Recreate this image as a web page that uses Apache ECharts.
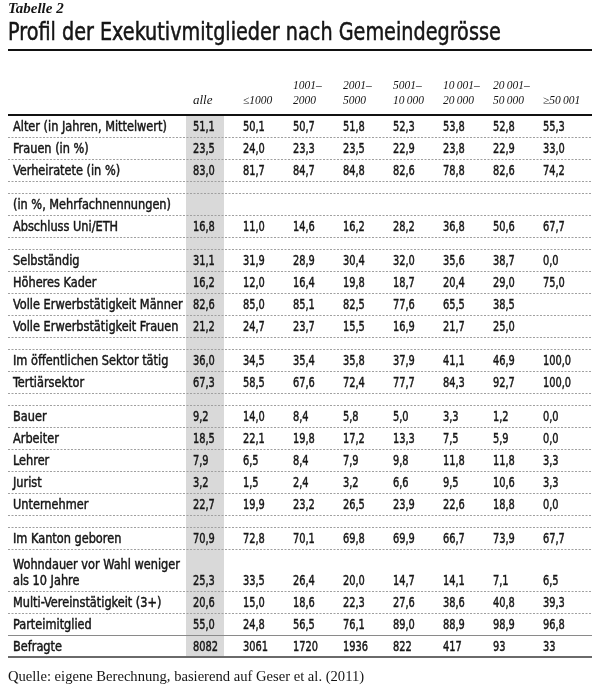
<!DOCTYPE html>
<html>
<head>
<meta charset="utf-8">
<script src="https://cdn.jsdelivr.net/npm/echarts@6/dist/echarts.min.js"></script>
<style>
  html, body { margin: 0; padding: 0; background: #fff; }
  #chart { width: 600px; height: 686px; }
</style>
</head>
<body>
<div id="chart"></div>
<script>
// column headers (size of municipality)
const columns = ['alle', '≤1000', '1001–\n2000', '2001–\n5000', '5001–\n10\u2009000',
  '10\u2009001–\n20\u2009000', '20\u2009001–\n50\u2009000', '≥50\u2009001'];

// row labels, null = empty separator row
const rowLabels = [
  'Alter (in Jahren, Mittelwert)', 'Frauen (in %)', 'Verheiratete (in %)', null,
  '(in %, Mehrfachnennungen)', 'Abschluss Uni/ETH', null,
  'Selbständig', 'Höheres Kader', 'Volle Erwerbstätigkeit Männer', 'Volle Erwerbstätigkeit Frauen', null,
  'Im öffentlichen Sektor tätig', 'Tertiärsektor', null,
  'Bauer', 'Arbeiter', 'Lehrer', 'Jurist', 'Unternehmer', null,
  'Im Kanton geboren', 'Wohndauer vor Wahl weniger\nals 10 Jahre', 'Multi-Vereinstätigkeit (3+)',
  'Parteimitglied', 'Befragte'
];

// values per column, one per labelled row up to "Parteimitglied"
const alle    = [51.1, 23.5, 83.0, null, 16.8, 31.1, 16.2, 82.6, 21.2, 36.0, 67.3, 9.2, 18.5, 7.9, 3.2, 22.7, 70.9, 25.3, 20.6, 55.0];
const bis1000 = [50.1, 24.0, 81.7, null, 11.0, 31.9, 12.0, 85.0, 24.7, 34.5, 58.5, 14.0, 22.1, 6.5, 1.5, 19.9, 72.8, 33.5, 15.0, 24.8];
const bis2000 = [50.7, 23.3, 84.7, null, 14.6, 28.9, 16.4, 85.1, 23.7, 35.4, 67.6, 8.4, 19.8, 8.4, 2.4, 23.2, 70.1, 26.4, 18.6, 56.5];
const bis5000 = [51.8, 23.5, 84.8, null, 16.2, 30.4, 19.8, 82.5, 15.5, 35.8, 72.4, 5.8, 17.2, 7.9, 3.2, 26.5, 69.8, 20.0, 22.3, 76.1];
const bis10000 = [52.3, 22.9, 82.6, null, 28.2, 32.0, 18.7, 77.6, 16.9, 37.9, 77.7, 5.0, 13.3, 9.8, 6.6, 23.9, 69.9, 14.7, 27.6, 89.0];
const bis20000 = [53.8, 23.8, 78.8, null, 36.8, 35.6, 20.4, 65.5, 21.7, 41.1, 84.3, 3.3, 7.5, 11.8, 9.5, 22.6, 66.7, 14.1, 38.6, 88.9];
const bis50000 = [52.8, 22.9, 82.6, null, 50.6, 38.7, 29.0, 38.5, 25.0, 46.9, 92.7, 1.2, 5.9, 11.8, 10.6, 18.8, 73.9, 7.1, 40.8, 98.9];
const ab50001 = [55.3, 33.0, 74.2, null, 67.7, 0.0, 75.0, null, null, 100.0, 100.0, 0.0, 0.0, 3.3, 3.3, 0.0, 67.7, 6.5, 39.3, 96.8];
const befragte = [8082, 3061, 1720, 1936, 822, 417, 93, 33];

const colValues = [alle, bis1000, bis2000, bis5000, bis10000, bis20000, bis50000, ab50001];

const SANS = '"DejaVu Sans Condensed", "DejaVu Sans", sans-serif';
const SERIF = '"Liberation Serif", serif';
const INK = '#151515';

// row layout in row units (one normal row = 1)
const rows = [];
let pos = 0;
rowLabels.forEach(label => {
  const h = label === null ? 12 / 22 : (label.indexOf('\n') >= 0 ? 42 / 22 : 1);
  rows.push({ label: label, top: pos, bottom: pos + h });
  pos += h;
});
const total = pos;
const dataRows = rows.filter(r => r.label !== null);

// cells
const cellData = [];
dataRows.forEach((r, i) => {
  colValues.forEach((vals, c) => {
    let text;
    if (i < dataRows.length - 1) {
      const v = vals[i];
      if (v === null) return;
      text = v.toFixed(1).replace('.', ',');
    } else {
      text = String(befragte[c]);
    }
    cellData.push([c, r.bottom - 0.5, text]);
  });
});

// row labels
const labelData = dataRows.map(r => [0, r.bottom - 0.5, r.label]);

// rules: 0 header, 1 dashed, 2 thin solid, 3 foot
const ruleData = [];
rows.forEach((r, i) => {
  let kind = 1;
  if (i === 0) kind = 0;
  else if (i === rows.length - 1) kind = 2;
  ruleData.push([0, r.top, kind]);
});
ruleData.push([0, total, 3]);

const ruleStyles = [
  { stroke: '#111', lineWidth: 2 },
  { stroke: '#a0a0a0', lineWidth: 1, lineDash: [2, 1.5] },
  { stroke: '#8a8a8a', lineWidth: 1 },
  { stroke: '#6a6a6a', lineWidth: 2 }
];

// slightly heavier sans text (medium weight look)
const sansStyle = (text, size) => ({
  text: text, fill: INK, stroke: INK, lineWidth: 0.45, fontFamily: SANS, fontSize: size
});

const chart = echarts.init(document.getElementById('chart'));
chart.setOption({
  backgroundColor: '#fff',
  animation: false,
  title: [
    { text: 'Tabelle 2', left: 8, top: 2, padding: 0,
      textStyle: { fontFamily: SERIF, fontStyle: 'italic', fontWeight: 'bold', fontSize: 15, color: INK } },
    { text: 'Quelle: eigene Berechnung, basierend auf Geser et al. (2011)', left: 8, top: 670, padding: 0,
      textStyle: { fontFamily: SERIF, fontWeight: 'normal', fontSize: 14.6, color: INK } }
  ],
  graphic: [
    { type: 'text', x: 8, y: 22, scaleX: 0.89, silent: true,
      style: Object.assign(sansStyle('Profil der Exekutivmitglieder nach Gemeindegrösse', 24),
        { verticalAlign: 'top', lineWidth: 0.5 }) },
    { type: 'rect', left: 8, top: 49, shape: { width: 584, height: 2 }, style: { fill: '#111' } }
  ],
  grid: { left: 8, right: 8, top: 115, bottom: 29 },
  xAxis: { type: 'value', min: -3.94, max: 7.74, show: false },
  yAxis: { type: 'value', min: 0, max: total, inverse: true, show: false },
  series: [
    {
      type: 'custom', name: 'band', z: 1, silent: true,
      data: [[0, 0, total]],
      renderItem: (params, api) => {
        const p1 = api.coord([api.value(0), api.value(1)]);
        const p2 = api.coord([api.value(0), api.value(2)]);
        return { type: 'rect', shape: { x: Math.round(p1[0]) - 19, y: p1[1], width: 38, height: p2[1] - p1[1] },
          style: { fill: '#d9d9d9' } };
      }
    },
    {
      type: 'custom', name: 'rules', z: 2, silent: true,
      data: ruleData,
      renderItem: (params, api) => {
        const cs = params.coordSys;
        const st = ruleStyles[api.value(2)];
        let y = api.coord([0, api.value(1)])[1];
        y = st.lineWidth === 1 ? Math.round(y) + 0.5 : Math.round(y);
        return { type: 'line', shape: { x1: cs.x, y1: y, x2: cs.x + cs.width, y2: y },
          style: { stroke: st.stroke, lineWidth: st.lineWidth, lineDash: st.lineDash || null } };
      }
    },
    {
      type: 'custom', name: 'header', z: 3, silent: true,
      data: columns.map((c, i) => [i, 0]),
      renderItem: (params, api) => {
        const p = api.coord([api.value(0), 0]);
        const first = params.dataIndex === 0;
        return { type: 'text', x: p[0] - 12, y: p[1] - 7,
          style: { text: columns[params.dataIndex], fill: INK, fontFamily: SERIF, fontStyle: 'italic',
            fontSize: first ? 13 : 11.5, lineHeight: 15, align: 'left', verticalAlign: 'bottom' } };
      }
    },
    {
      type: 'custom', name: 'labels', z: 3, silent: true,
      data: labelData,
      renderItem: (params, api) => {
        const cs = params.coordSys;
        const p = api.coord([0, api.value(1)]);
        return { type: 'text', x: cs.x + 5, y: p[1] + 9, scaleX: 0.9,
          style: Object.assign(sansStyle(labelData[params.dataIndex][2], 14),
            { lineHeight: 16, align: 'left', verticalAlign: 'bottom' }) };
      }
    },
    {
      type: 'custom', name: 'cells', z: 3, silent: true,
      data: cellData,
      renderItem: (params, api) => {
        const p = api.coord([api.value(0), api.value(1)]);
        return { type: 'text', x: p[0] - 12, y: p[1] + 1, scaleX: 0.78,
          style: Object.assign(sansStyle(cellData[params.dataIndex][2], 14),
            { align: 'left', verticalAlign: 'middle' }) };
      }
    }
  ]
});
</script>
</body>
</html>
